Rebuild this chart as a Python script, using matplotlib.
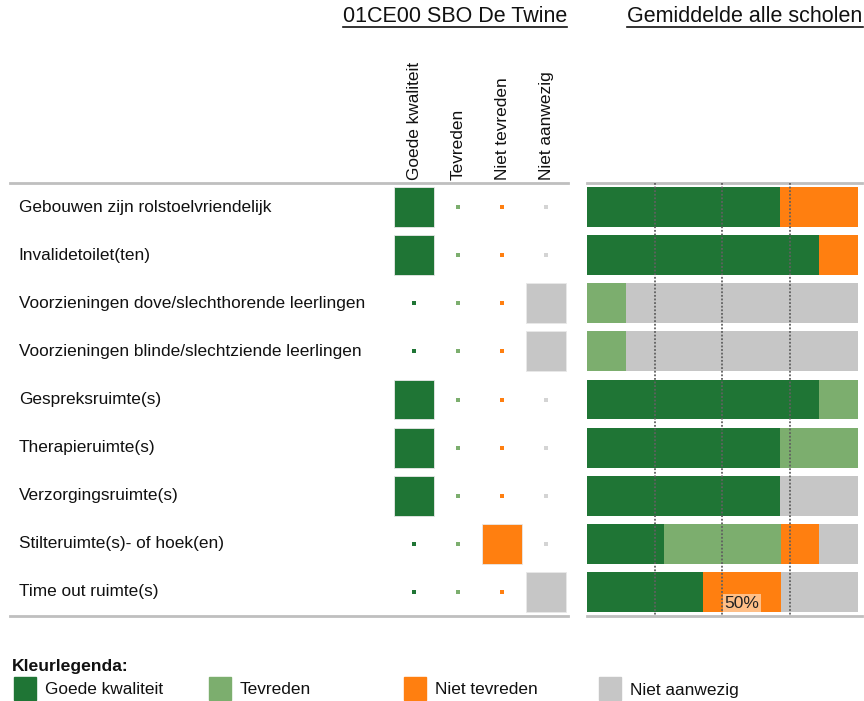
import matplotlib
matplotlib.use('Agg')
import matplotlib.pyplot as plt
from matplotlib.patches import Rectangle
from matplotlib.lines import Line2D

plt.rcParams['font.family'] = ['Liberation Sans', 'DejaVu Sans']

# data
rows = ['Gebouwen zijn rolstoelvriendelijk', 'Invalidetoilet(ten)',
        'Voorzieningen dove/slechthorende leerlingen',
        'Voorzieningen blinde/slechtziende leerlingen',
        'Gespreksruimte(s)', 'Therapieruimte(s)', 'Verzorgingsruimte(s)',
        'Stilteruimte(s)- of hoek(en)', 'Time out ruimte(s)']
categories = ['Goede kwaliteit', 'Tevreden', 'Niet tevreden', 'Niet aanwezig']
legend_labels = ['Goede kwaliteit', 'Tevreden', 'Niet tevreden', 'Niet aanwezig']

# answer of the school (index into categories)
school_answer = [0, 0, 3, 3, 0, 0, 0, 2, 3]

# average of all schools, percentages
goede_avg = [71.4, 85.7, 0, 0, 85.7, 71.4, 71.4, 28.6, 42.9]
tevreden_avg = [0, 0, 14.3, 14.3, 14.3, 28.6, 0, 42.9, 0]
niet_tevreden_avg = [28.6, 14.3, 0, 0, 0, 0, 0, 14.3, 28.6]
niet_aanwezig_avg = [0, 0, 85.7, 85.7, 0, 0, 28.6, 14.3, 28.6]

gridlines = [25, 50, 75]

colors = ['#1f7535', '#7cae6e', '#ff7f10', '#c6c6c6']
dot_colors = ['#1f7535', '#7cae6e', '#ff7f10', '#d4d4d4']
line_col = '#bfbfbf'

W, H = 864, 701
fig = plt.figure(figsize=(W / 100, H / 100), dpi=100)

def fx(px):
    return px / W

def fy(px):
    return 1 - px / H

ax_bottom = fy(616)
ax_height = (616 - 183) / H

# left part: labels + school squares
axl = fig.add_axes([fx(10), ax_bottom, fx(558), ax_height])
axl.set_xlim(-9.2, 3.5)
axl.set_ylim(8.5, -0.5)
axl.axis('off')

for i, lab in enumerate(rows):
    axl.text(-9.0, i, lab, va='center', ha='left', fontsize=12.4, color='#111111')
    for j in range(len(categories)):
        if school_answer[i] == j:
            axl.bar(j, 0.83, width=0.92, bottom=i - 0.415, color=colors[j],
                    edgecolor='#e8e8e8', linewidth=0.6)
        else:
            axl.scatter(j, i, marker='s', s=7, color=dot_colors[j], linewidths=0)

for j, c in enumerate(categories):
    axl.text(j, -0.56, c, rotation=90, ha='center', va='bottom', fontsize=12.4,
             color='#111111')

axl.axhline(-0.5, color=line_col, lw=2, clip_on=False)
axl.axhline(8.5, color=line_col, lw=2, clip_on=False)

# right part: stacked bars averages
axr = fig.add_axes([fx(587), ax_bottom, fx(275), ax_height])
axr.set_xlim(0, 101.5)
axr.set_ylim(8.5, -0.5)
axr.axis('off')

y = list(range(len(rows)))
left = [0] * len(rows)
for vals, col in zip([goede_avg, tevreden_avg, niet_tevreden_avg, niet_aanwezig_avg], colors):
    axr.barh(y, vals, left=left, height=0.83, color=col, edgecolor='none')
    left = [a + b for a, b in zip(left, vals)]

for g in gridlines:
    axr.plot([g, g], [-0.5, 8.5], color='#606060', lw=1.3, ls=(0, (1, 1)), zorder=5)

axr.text(50.8, 8.24, '50%', ha='left', va='center', fontsize=12.5, color='#222222',
         zorder=6, bbox=dict(boxstyle='square,pad=0.1', facecolor='white',
                             alpha=0.5, edgecolor='none'))

axr.axhline(-0.5, color=line_col, lw=2, clip_on=False)
axr.axhline(8.5, color=line_col, lw=2, clip_on=False)

# titles with underline
titles = [('01CE00 SBO De Twine', 455), ('Gemiddelde alle scholen', 745)]
fig.canvas.draw()
renderer = fig.canvas.get_renderer()
for t, cx in titles:
    txt = fig.text(fx(cx), fy(17), t, ha='center', va='center', fontsize=15.5,
                   color='#111111')
    bb = txt.get_window_extent(renderer)
    fig.add_artist(Line2D([bb.x0 / W, bb.x1 / W], [fy(27), fy(27)],
                          color='#111111', lw=1.2))

# colour legend
fig.text(fx(12), fy(666), 'Kleurlegenda:', ha='left', va='center', fontsize=12.6,
         fontweight='bold', color='#111111')
for i, (lab, col) in enumerate(zip(legend_labels, colors)):
    x0 = 14 + 195 * i
    fig.add_artist(Rectangle((fx(x0), fy(700)), fx(22), 23 / H, color=col,
                             transform=fig.transFigure))
    fig.text(fx(x0 + 31), fy(690), lab, ha='left', va='center', fontsize=12.4,
             color='#111111')

fig.savefig('out.png', dpi=100)
